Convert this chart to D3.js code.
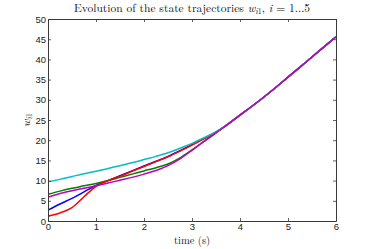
<!DOCTYPE html>
<html><head><meta charset="utf-8">
<script src="https://cdn.jsdelivr.net/npm/d3@7"></script>
<style>body{margin:0;background:#fff;}svg{display:block;}</style>
</head><body>
<svg id="c" width="371" height="249"></svg>
<script>
const times = [0,0.25,0.5,0.75,1,1.25,1.5,1.75,2,2.25,2.5,2.75,3,3.25,3.5,3.75,4,4.25,4.5,4.75,5,5.25,5.5,5.75,6];
const w11 = [2.7,4.2,5.6,7.2,8.8,10.0,11.2,12.4,13.6,14.8,16.0,17.4,18.9,20.4,22.0,24.0,26.2,28.4,30.7,33.1,35.6,38.1,40.6,43.1,45.6];
const w21 = [6.6,7.4,8.1,8.7,9.3,10.0,10.8,11.6,12.4,13.2,14.1,15.6,17.6,19.7,21.8,24.0,26.2,28.4,30.7,33.1,35.6,38.1,40.6,43.1,45.6];
const w31 = [1.2,2.0,3.3,6.0,8.6,10.0,11.1,12.3,13.5,14.7,15.9,17.3,18.8,20.4,22.0,24.0,26.2,28.4,30.7,33.1,35.6,38.1,40.6,43.1,45.6];
const w41 = [9.7,10.3,11.0,11.7,12.3,13.0,13.7,14.4,15.2,16.0,16.9,18.0,19.2,20.6,22.1,24.0,26.2,28.4,30.7,33.1,35.6,38.1,40.6,43.1,45.6];
const w51 = [5.9,6.8,7.5,8.1,8.7,9.4,10.1,10.8,11.6,12.5,13.7,15.4,17.5,19.7,21.8,24.0,26.2,28.4,30.7,33.1,35.6,38.1,40.6,43.1,45.6];
const seriesNames = ["w11","w21","w31","w41","w51"];
const seriesValues = [w11,w21,w31,w41,w51];
const colors = ["#0000ff","#007f00","#ff0000","#00bfbf","#bf00bf"];
const xTicks = [0,1,2,3,4,5,6];
const yTicks = [0,5,10,15,20,25,30,35,40,45,50];

const svg = d3.select("#c");
const L=48, R=336, T=19, B=221;
const x = d3.scaleLinear().domain([0,6]).range([L,R]);
const y = d3.scaleLinear().domain([0,50]).range([B,T]);
const axisCol = "#3a3a3a";

// lines
const line = d3.line().x((d,i)=>x(times[i])).y(d=>y(d)).curve(d3.curveMonotoneX);
const g = svg.append("g");
seriesValues.forEach((vals,k)=>{
  g.append("path").attr("d", line(vals)).attr("fill","none")
   .attr("stroke", colors[k]).attr("stroke-width",1.5).attr("stroke-linejoin","round");
});

// axes with inward ticks
function styleAxis(sel){
  sel.selectAll("path.domain").attr("stroke",axisCol).attr("stroke-width",1);
  sel.selectAll(".tick line").attr("stroke",axisCol).attr("stroke-width",0.8);
  sel.selectAll(".tick text").attr("fill","#222").style("font-family","Liberation Sans, Arial, sans-serif").style("font-size","9.5px");
}
const xb = svg.append("g").attr("transform",`translate(0,${B})`)
  .call(d3.axisBottom(x).tickValues(xTicks).tickSizeInner(-3).tickSizeOuter(0).tickPadding(2).tickFormat(d3.format("d")));
styleAxis(xb);
const xt = svg.append("g").attr("transform",`translate(0,${T})`)
  .call(d3.axisTop(x).tickValues(xTicks).tickSizeInner(-3).tickSizeOuter(0).tickFormat(""));
styleAxis(xt);
const yl = svg.append("g").attr("transform",`translate(${L},0)`)
  .call(d3.axisLeft(y).tickValues(yTicks).tickSizeInner(-3).tickSizeOuter(0).tickPadding(2).tickFormat(d3.format("d")));
styleAxis(yl);
const yr = svg.append("g").attr("transform",`translate(${R},0)`)
  .call(d3.axisRight(y).tickValues(yTicks).tickSizeInner(-3).tickSizeOuter(0).tickFormat(""));
styleAxis(yr);

// title
const serif = "Latin Modern Roman, Liberation Serif, DejaVu Serif, serif";
const title = svg.append("text").attr("x",(L+R)/2).attr("y",12).attr("text-anchor","middle")
  .style("font-family",serif).style("font-size","11.5px").attr("fill","#111");
title.append("tspan").text("Evolution of the state trajectories ");
title.append("tspan").style("font-style","italic").text("w");
title.append("tspan").attr("font-size","8px").attr("dy",2).style("font-style","italic").text("i");
title.append("tspan").attr("font-size","8px").text("1");
title.append("tspan").attr("dy",-2).text(", ");
title.append("tspan").style("font-style","italic").text("i");
title.append("tspan").text(" = 1...5");

// x label
svg.append("text").attr("x",(L+R)/2).attr("y",243.5).attr("text-anchor","middle")
  .style("font-family",serif).style("font-size","10.5px").attr("fill","#111").text("time (s)");

// y label
const yLab = svg.append("text").attr("transform","translate(30,120) rotate(-90)").attr("text-anchor","middle")
  .style("font-family",serif).style("font-size","11.5px").attr("fill","#111");
yLab.append("tspan").style("font-style","italic").text("w");
yLab.append("tspan").attr("font-size","8px").attr("dy",2).style("font-style","italic").text("i");
yLab.append("tspan").attr("font-size","8px").text("1");
</script>
</body></html>
